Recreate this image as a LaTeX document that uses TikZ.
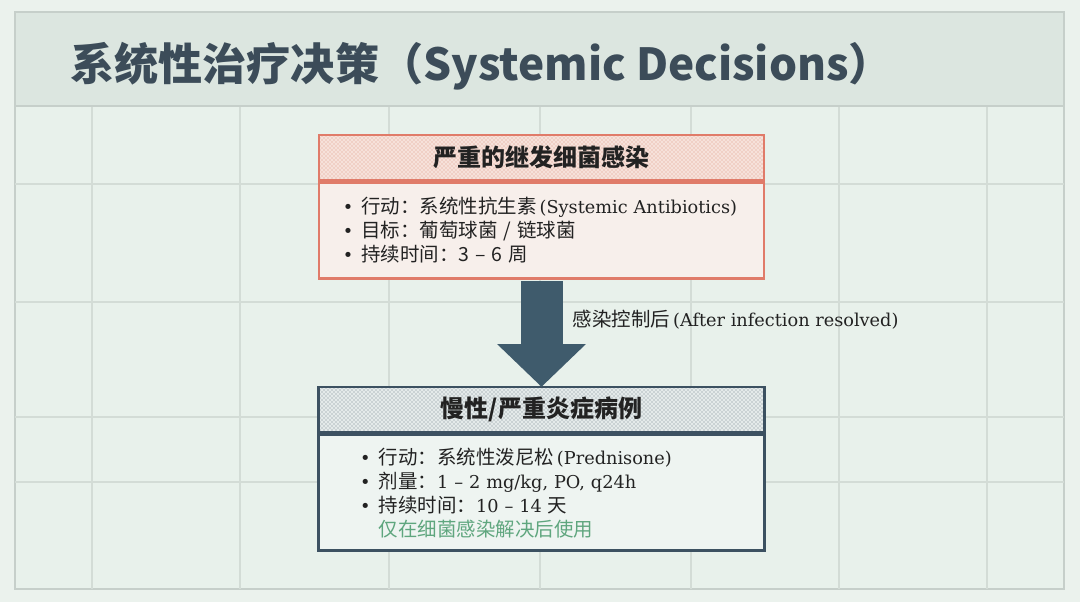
\documentclass[tikz,border=0pt]{standalone}
\usepackage{fontspec}
\setmainfont{DejaVu Serif}[Scale=0.91]
\newfontfamily\cjk{Noto Sans CJK SC}
\usetikzlibrary{arrows.meta, patterns, positioning}

\definecolor{pagebg}{HTML}{EBF2ED}
\definecolor{panelbg}{HTML}{E8F1EB}
\definecolor{bandbg}{HTML}{DCE6E0}
\definecolor{gridline}{HTML}{D3DCD6}
\definecolor{framegray}{HTML}{C6CFCA}
\definecolor{titleslate}{HTML}{3C4C59}
\definecolor{salmon}{HTML}{E07B69}
\definecolor{salmonbg}{HTML}{F6E1DA}
\definecolor{salmondot}{HTML}{DD9887}
\definecolor{pinkbody}{HTML}{F7EFEB}
\definecolor{slate}{HTML}{3C5161}
\definecolor{slatebg}{HTML}{E4EAEA}
\definecolor{slatedot}{HTML}{75858E}
\definecolor{slatebody}{HTML}{EEF4F1}
\definecolor{arrowslate}{HTML}{3F5B6C}
\definecolor{tipgreen}{HTML}{5FA67E}
\definecolor{inkdark}{HTML}{222222}

\newcommand{\bul}{\makebox[14pt][l]{\textbullet}}

\begin{document}
\begin{tikzpicture}[x=0.75pt, y=-0.75pt]
    \tikzstyle{headbox} = [draw, minimum width=334pt, minimum height=33.75pt, inner sep=0pt, text=inkdark, font=\cjk\bfseries\fontsize{18}{22}\selectfont]
    \tikzstyle{bodybox} = [draw, minimum width=334pt, align=left, text=inkdark, font=\fontsize{14.6}{18}\selectfont]

    % page, panel and title band
    \useasboundingbox (0,0) rectangle (1080,602);
    \fill[pagebg] (0,0) rectangle (1080,602);
    \draw[framegray, fill=panelbg, line width=0.9pt] (15,12) rectangle (1064,589);
    \foreach \gx in {92, 240, 389, 540, 691, 839, 987}
        \draw[gridline, line width=0.8pt] (\gx,106) -- (\gx,589);
    \foreach \gy in {184, 302, 417, 482}
        \draw[gridline, line width=0.8pt] (15,\gy) -- (1064,\gy);
    \draw[framegray, fill=bandbg, line width=0.9pt] (15,12) rectangle (1064,106);
    \node[anchor=west, text=titleslate, font=\cjk\bfseries\fontsize{33.1}{37}\selectfont] (title) at (66,66) {系统性治疗决策（Systemic Decisions）};

    % infection box
    \node[headbox, draw=salmon, line width=1.9pt, preaction={fill=salmonbg}, pattern=crosshatch dots, pattern color=salmondot] (infHead) at (541.5,157.5) {严重的继发细菌感染};
    \node[bodybox, draw=salmon, line width=1.9pt, fill=pinkbody, minimum height=72pt, text width=298pt, inner xsep=18pt, below=0pt of infHead] (infBody) {%
        \bul{\cjk 行动：系统性抗生素}\,\mbox{(Systemic Antibiotics)}\\
        \bul{\cjk 目标：葡萄球菌 / 链球菌}\\
        \bul{\cjk 持续时间：3 – 6 周}};

    % inflammation box
    \node[headbox, draw=slate, line width=2.2pt, preaction={fill=slatebg}, pattern=crosshatch dots, pattern color=slatedot] (inflHead) at (541.5,409.5) {慢性/严重炎症病例};
    \node[bodybox, draw=slate, line width=2.2pt, fill=slatebody, minimum height=87pt, text width=272pt, inner xsep=31pt, below=0pt of inflHead] (inflBody) {%
        \bul{\cjk 行动：系统性泼尼松}\,(Prednisone)\\
        \bul{\cjk 剂量：}1 – 2 mg/kg, PO, q24h\\
        \bul{\cjk 持续时间：}10 – 14 {\cjk 天}\\
        \hspace*{14pt}{\cjk\color{tipgreen}仅在细菌感染解决后使用}};

    % transition
    \draw[arrowslate, line width=31.5pt, -{Triangle[width=64.5pt, length=32pt]}] ([yshift=-1.2pt]infBody.south) -- node[pos=0.36, anchor=west, inner sep=0pt, outer sep=0pt, xshift=23.5pt, text=inkdark, font=\fontsize{14.6}{18}\selectfont] (resolved) {{\cjk 感染控制后}\,(After infection resolved)} ([yshift=-1pt]inflHead.north);
\end{tikzpicture}
\end{document}
